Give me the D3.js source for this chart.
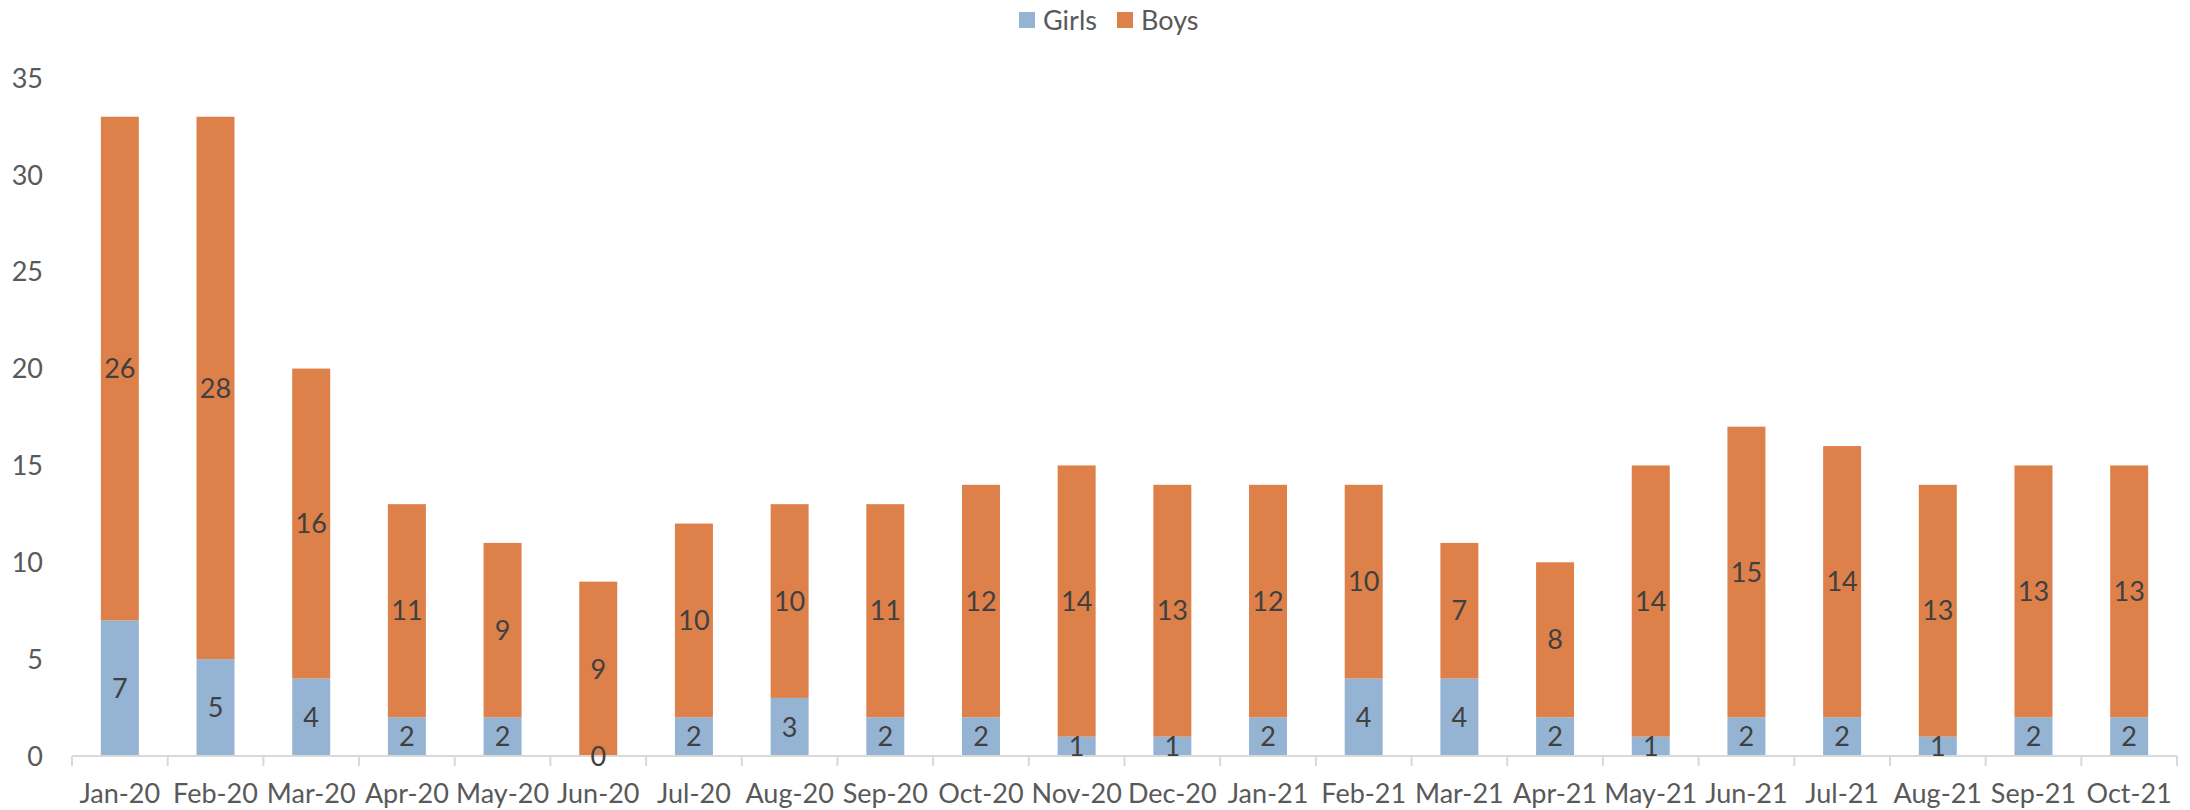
<!DOCTYPE html>
<html>
<head>
<meta charset="utf-8">
<script src="https://cdn.jsdelivr.net/npm/d3@7"></script>
<style>
  body { margin: 0; background: #fff; }
  svg text { font-family: Lato, "Open Sans", sans-serif; }
</style>
</head>
<body>
<svg id="chart" width="2190" height="810"></svg>
<script>
// Chart data
const months = ["Jan-20","Feb-20","Mar-20","Apr-20","May-20","Jun-20","Jul-20","Aug-20","Sep-20","Oct-20","Nov-20","Dec-20",
  "Jan-21","Feb-21","Mar-21","Apr-21","May-21","Jun-21","Jul-21","Aug-21","Sep-21","Oct-21"];
const girls = [7,5,4,2,2,0,2,3,2,2,1,1,2,4,4,2,1,2,2,1,2,2];
const boys = [26,28,16,11,9,9,10,10,11,12,14,13,12,10,7,8,14,15,14,13,13,13];
const yTicks = [0,5,10,15,20,25,30,35];
const seriesNames = ["Girls","Boys"];
const colors = {Girls: "#95b4d3", Boys: "#de8049"};

const svg = d3.select("#chart");
const plotLeft = 72, plotRight = 2177, plotTop = 78, plotBottom = 756;
const fontSize = 27;

const x = d3.scaleBand().domain(months).range([plotLeft, plotRight]).paddingInner(0.603).paddingOuter(0.3015);
const y = d3.scaleLinear().domain([0, 35]).range([plotBottom, plotTop]);

// Stack the two series
const rows = months.map((m, i) => ({month: m, Girls: girls[i], Boys: boys[i]}));
const stacked = d3.stack().keys(seriesNames)(rows);

// Bars
stacked.forEach(layer => {
  svg.append("g").selectAll("rect")
    .data(layer)
    .join("rect")
    .attr("x", d => x(d.data.month))
    .attr("width", x.bandwidth())
    .attr("y", d => y(d[1]))
    .attr("height", d => y(d[0]) - y(d[1]))
    .attr("fill", colors[layer.key]);
});

// Y axis labels (no axis line)
svg.append("g").selectAll("text")
  .data(yTicks)
  .join("text")
  .attr("x", 43)
  .attr("y", d => y(d))
  .attr("dy", "0.36em")
  .attr("text-anchor", "end")
  .attr("font-size", fontSize)
  .attr("fill", "#595959")
  .text(d => d);

// X axis line and ticks at category boundaries
const step = (plotRight - plotLeft) / months.length;
svg.append("line")
  .attr("x1", plotLeft).attr("x2", plotRight)
  .attr("y1", plotBottom).attr("y2", plotBottom)
  .attr("stroke", "#d9d9d9").attr("stroke-width", 2);
svg.append("g").selectAll("line")
  .data(d3.range(months.length + 1))
  .join("line")
  .attr("x1", i => plotLeft + i * step).attr("x2", i => plotLeft + i * step)
  .attr("y1", plotBottom).attr("y2", plotBottom + 10)
  .attr("stroke", "#d9d9d9").attr("stroke-width", 2);

// X labels
svg.append("g").selectAll("text")
  .data(months)
  .join("text")
  .attr("x", d => x(d) + x.bandwidth() / 2)
  .attr("y", 793)
  .attr("dy", "0.36em")
  .attr("text-anchor", "middle")
  .attr("font-size", fontSize)
  .attr("fill", "#595959")
  .text(d => d);

// Data labels at the middle of each segment
stacked.forEach(layer => {
  svg.append("g").selectAll("text")
    .data(layer)
    .join("text")
    .attr("x", d => x(d.data.month) + x.bandwidth() / 2)
    .attr("y", d => (y(d[0]) + y(d[1])) / 2)
    .attr("dy", "0.36em")
    .attr("text-anchor", "middle")
    .attr("font-size", fontSize)
    .attr("fill", "#404040")
    .text(d => d[1] - d[0]);
});

// Legend
const legend = svg.append("g");
const legendItems = [{name: "Girls", x: 1019}, {name: "Boys", x: 1117}];
legendItems.forEach(item => {
  legend.append("rect")
    .attr("x", item.x).attr("y", 12)
    .attr("width", 16).attr("height", 16)
    .attr("fill", colors[item.name]);
  legend.append("text")
    .attr("x", item.x + 24).attr("y", 20)
    .attr("dy", "0.36em")
    .attr("font-size", fontSize)
    .attr("fill", "#595959")
    .text(item.name);
});
</script>
</body>
</html>
